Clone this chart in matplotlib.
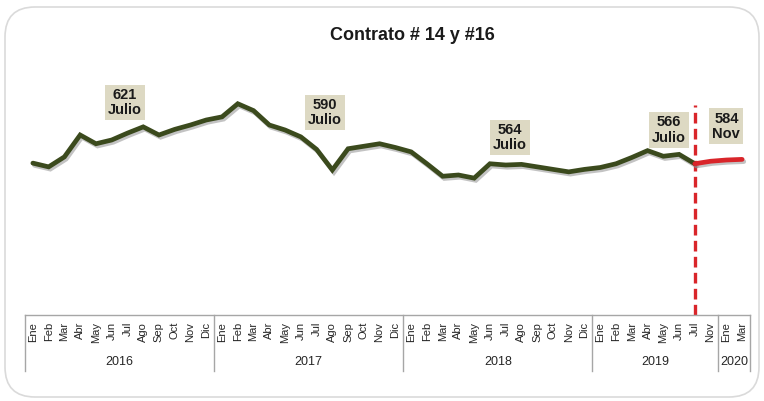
import matplotlib
matplotlib.use("Agg")
import matplotlib.pyplot as plt
import matplotlib.patheffects as pe
from matplotlib.patches import FancyBboxPatch

plt.rcParams['font.family'] = ['Liberation Sans', 'DejaVu Sans']

# ---------------- data ----------------
years = ['2016', '2017', '2018', '2019', '2020']
months_per_year = [
    ['Ene', 'Feb', 'Mar', 'Abr', 'May', 'Jun', 'Jul', 'Ago', 'Sep', 'Oct', 'Nov', 'Dic'],
    ['Ene', 'Feb', 'Mar', 'Abr', 'May', 'Jun', 'Jul', 'Ago', 'Sep', 'Oct', 'Nov', 'Dic'],
    ['Ene', 'Feb', 'Mar', 'Abr', 'May', 'Jun', 'Jul', 'Ago', 'Sep', 'Oct', 'Nov', 'Dic'],
    ['Ene', 'Feb', 'Mar', 'Abr', 'May', 'Jun', 'Jul', 'Nov'],
    ['Ene', 'Mar'],
]
# observed series (Ene 2016 .. Jul 2019)
observed = [563, 557, 573, 608, 594, 600, 611, 621, 608, 617, 624, 632,
            637, 658, 647, 624, 616, 605, 585, 552, 586, 590, 594, 588,
            581, 562, 542, 544, 539, 562, 560, 561, 557, 553, 549, 553,
            556, 562, 572, 583, 574, 577, 562]
# projection (Jul 2019 .. Mar 2020)
projection = [562, 566, 568, 569]

label_texts = ['621\nJulio', '590\nJulio', '564\nJulio', '566\nJulio', '584\nNov']
label_pos = [(5.84, 660), (18.53, 644), (30.27, 604), (40.36, 616), (44.0, 622)]

title = 'Contrato # 14 y #16'

# ---------------- figure ----------------
fig = plt.figure(figsize=(7.64, 4.01), dpi=100)
frame = FancyBboxPatch((0.05, 0.04), 7.54, 3.90,
                       boxstyle='round,pad=0,rounding_size=0.30',
                       transform=fig.dpi_scale_trans,
                       facecolor='white', edgecolor='#dadada', lw=1.2,
                       zorder=-10)
fig.add_artist(frame)

ax = fig.add_axes([25 / 764, 1 - 315 / 401, 725 / 764, 255 / 401])
ax.set_zorder(5)
ax.set_facecolor('none')

n_obs = len(observed)
x_obs = list(range(n_obs))
x_proj = list(range(n_obs - 1, n_obs - 1 + len(projection)))

shadow = [pe.SimpleLineShadow(offset=(1.2, -1.6), shadow_color='#888888', alpha=0.5),
          pe.Normal()]
ax.plot(x_obs, observed, color='#3b4a1d', lw=3.4, solid_joinstyle='miter',
        solid_capstyle='round', path_effects=shadow, zorder=3)
ax.plot(x_proj, projection, color='#d9252a', lw=3.4, solid_capstyle='round',
        path_effects=shadow, zorder=3)

ymin, ymax = 320, 728
ax.set_ylim(ymin, ymax)
total = sum(len(m) for m in months_per_year)
ax.set_xlim(-0.5, total - 0.5)

# red dashed separator at the last observed month
ax.plot([n_obs - 1, n_obs - 1], [ymin, 656], color='#d9252a', lw=2.4,
        dashes=(3.2, 1.6), zorder=2)

for txt, (lx, ly) in zip(label_texts, label_pos):
    ax.text(lx, ly, txt, ha='center', va='center', fontsize=10.5,
            fontweight='bold', color='#1a1a1a', linespacing=1.1, zorder=5,
            bbox=dict(boxstyle='square,pad=0.22', facecolor='#ddd9c3',
                      edgecolor='none'))

for s in ax.spines.values():
    s.set_visible(False)
ax.set_xticks([])
ax.set_yticks([])

# category table below the axis
tr = ax.get_xaxis_transform()
line_kw = dict(color='#a6a6a6', lw=1.0, transform=tr, clip_on=False)
ax.plot([-0.5, total - 0.5], [0, 0], **line_kw)
bottom = -(371 - 315) / 255
idx = 0
ax.plot([-0.5, -0.5], [0, bottom], **line_kw)
for yr, months in zip(years, months_per_year):
    start = idx
    for m in months:
        ax.text(idx, -(322 - 315) / 255, m, rotation=90, ha='center', va='top',
                fontsize=8, color='#262626', transform=tr)
        idx += 1
    ax.plot([idx - 0.5, idx - 0.5], [0, bottom], **line_kw)
    ax.text((start + idx - 1) / 2, -(362 - 315) / 255, yr, ha='center',
            va='center', fontsize=9, color='#262626', transform=tr)

fig.text(412 / 764, 1 - 35 / 401, title, ha='center', va='center',
         fontsize=13, fontweight='bold', color='#1a1a1a')

fig.savefig('out.png', dpi=100)
